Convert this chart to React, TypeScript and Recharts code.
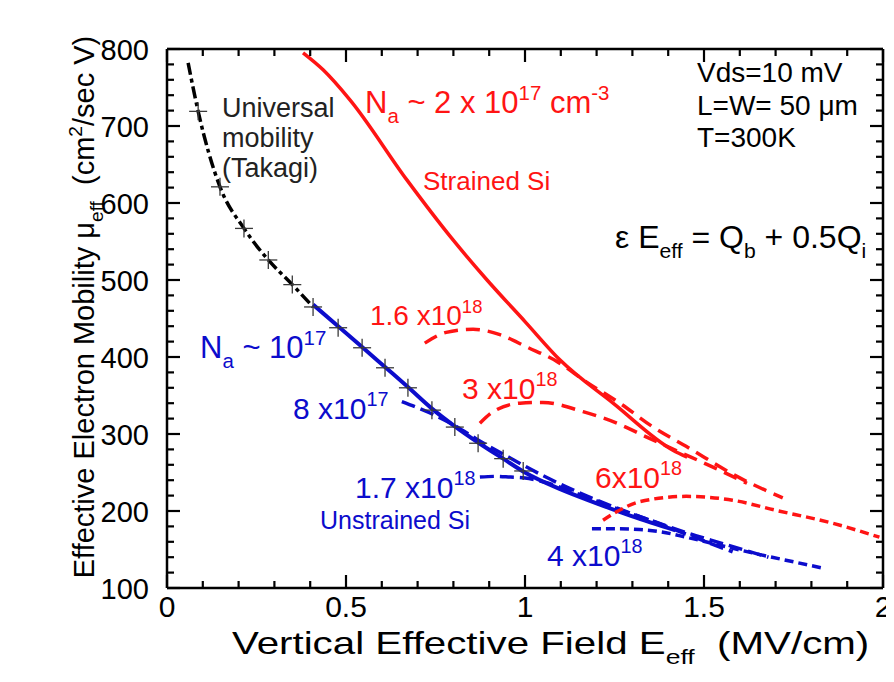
import React from "react";
import { ComposedChart, Line, Scatter, XAxis, YAxis } from "recharts";

const FONT = "'Liberation Sans', Arial, sans-serif";
const RED = "#ff1414";
const BLUE = "#0c0ccc";

// axis ticks
const fieldTicks = [0, 0.1, 0.2, 0.3, 0.4, 0.5, 0.6, 0.7, 0.8, 0.9, 1, 1.1, 1.2, 1.3, 1.4, 1.5, 1.6, 1.7, 1.8, 1.9, 2];
const mobilityTicks = [
  100, 120, 140, 160, 180, 200, 220, 240, 260, 280, 300, 320, 340, 360, 380, 400, 420, 440, 460, 480,
  500, 520, 540, 560, 580, 600, 620, 640, 660, 680, 700, 720, 740, 760, 780, 800,
];

// universal mobility (Takagi)
const universalX = [0.059, 0.087, 0.148, 0.215, 0.283, 0.35, 0.408];
const universalY = [782, 719, 621, 567, 526, 494, 465];
const crossX = [0.087, 0.148, 0.215, 0.283, 0.35, 0.408, 0.478, 0.545, 0.609, 0.673, 0.74, 0.804, 0.869, 0.939, 0.995];
const crossY = [719, 621, 567, 526, 494, 465, 438, 412, 386, 360, 331, 309, 288, 268, 252];

// unstrained Si
const na1e17X = [0.408, 0.478, 0.545, 0.609, 0.673, 0.74, 0.804, 0.869, 0.939, 1.0, 1.1, 1.2, 1.3, 1.42];
const na1e17Y = [468, 440, 413, 387, 361, 333, 310, 289, 268, 250, 228, 210, 193, 175];
const na8e17X = [0.656, 0.7, 0.75, 0.8, 0.87, 0.95, 1.05, 1.15, 1.25, 1.35, 1.45, 1.58];
const na8e17Y = [342, 334, 324, 312, 292, 271, 246, 224, 205, 188, 170, 147];
const na17e18X = [0.874, 0.92, 0.96, 1.0, 1.05, 1.15, 1.25, 1.35, 1.45, 1.55, 1.68];
const na17e18Y = [244, 245, 244, 243, 238, 222, 204, 188, 172, 158, 140];
const na4e18X = [1.187, 1.25, 1.32, 1.38, 1.45, 1.55, 1.65, 1.75, 1.83];
const na4e18Y = [177, 177, 176, 173, 166, 155, 144, 134, 126];

// strained Si
const strainedX = [0.38, 0.436, 0.511, 0.67, 0.799, 0.894, 1.0, 1.098, 1.246, 1.413, 1.453];
const strainedY = [795, 773, 734, 630, 552, 500, 446, 396, 340, 279, 270];
const na16e18X = [0.72, 0.78, 0.855, 0.93, 1.005, 1.09, 1.17, 1.265, 1.358, 1.45, 1.6, 1.72];
const na16e18Y = [418, 432, 436, 429, 413, 394, 368, 340, 309, 284, 243, 217];
const na3e18X = [0.874, 0.911, 0.986, 1.05, 1.162, 1.257, 1.34, 1.43, 1.525, 1.62];
const na3e18Y = [314, 329, 340, 341, 329, 314, 296, 277, 257, 236];
const na6e18X = [1.218, 1.26, 1.32, 1.45, 1.58, 1.7, 1.86, 1.99];
const na6e18Y = [188, 200, 212, 219, 214, 201, 184, 166];

const zip = (xs: number[], ys: number[]) => xs.map((x, i) => ({ x, y: ys[i] }));

const isMajorX = (v: number) => Math.abs(v * 2 - Math.round(v * 2)) < 1e-6;
const isMajorY = (v: number) => v % 100 === 0;

const BottomTick = (p: any) => {
  const v = p.payload.value;
  const major = isMajorX(v);
  return (
    <g>
      <line x1={p.x} x2={p.x} y1={p.y} y2={p.y - (major ? 13 : 7)} stroke="#000" strokeWidth={2.2} />
      {major && (
        <text x={p.x} y={p.y + 29} textAnchor="middle" fontSize={30} fontFamily={FONT} fill="#000">
          {String(v)}
        </text>
      )}
    </g>
  );
};

const TopTick = (p: any) => {
  const major = isMajorX(p.payload.value);
  return <line x1={p.x} x2={p.x} y1={p.y} y2={p.y + (major ? 13 : 7)} stroke="#000" strokeWidth={2.2} />;
};

const LeftTick = (p: any) => {
  const v = p.payload.value;
  const major = isMajorY(v);
  return (
    <g>
      <line x1={p.x} x2={p.x + (major ? 13 : 7)} y1={p.y} y2={p.y} stroke="#000" strokeWidth={2.2} />
      {major && (
        <text x={p.x - 18} y={p.y + 11} textAnchor="end" fontSize={29} fontFamily={FONT} fill="#000">
          {String(v)}
        </text>
      )}
    </g>
  );
};

const RightTick = (p: any) => {
  const major = isMajorY(p.payload.value);
  return <line x1={p.x} x2={p.x - (major ? 13 : 7)} y1={p.y} y2={p.y} stroke="#000" strokeWidth={2.2} />;
};

const Cross = (p: any) => (
  <g stroke="#3a3a3a" strokeWidth={1.3}>
    <line x1={p.cx - 9} x2={p.cx + 9} y1={p.cy} y2={p.cy} />
    <line x1={p.cx} x2={p.cx} y1={p.cy - 9} y2={p.cy + 9} />
  </g>
);

type Part = [string, "n" | "sub" | "sup"];

// text with sub/superscripts; sx stretches it horizontally, rotate turns it about (x, y)
const Rich = ({ x, y, size, color, parts, anchor = "start", rotate = 0, sx = 1 }: any) => {
  let prev = 0;
  return (
    <text
      x={0}
      y={0}
      transform={`translate(${x},${y}) rotate(${rotate}) scale(${sx},1)`}
      fontSize={size}
      fill={color}
      fontFamily={FONT}
      textAnchor={anchor}
      style={{ whiteSpace: "pre" }}
    >
      {(parts as Part[]).map(([s, m], i) => {
        const off = m === "sup" ? -0.42 * size : m === "sub" ? 0.32 * size : 0;
        const dy = off - prev;
        prev = off;
        return (
          <tspan key={i} dy={dy} fontSize={m === "n" ? size : size * 0.66}>
            {s}
          </tspan>
        );
      })}
    </text>
  );
};

const axisLine = { stroke: "#000", strokeWidth: 2.5 };

export default function App() {
  return (
    <div style={{ position: "relative", marginLeft: -8, marginTop: -8, width: 894, height: 682, background: "#fff" }}>
      <ComposedChart width={894} height={682} margin={{ top: 48, right: 10, bottom: 34, left: 67 }}>
        <XAxis
          xAxisId="b"
          type="number"
          dataKey="x"
          domain={[0, 2]}
          ticks={fieldTicks}
          interval={0}
          allowDataOverflow
          height={60}
          tickSize={0}
          tickMargin={0}
          axisLine={axisLine}
          tickLine={false}
          tick={<BottomTick />}
        />
        <XAxis
          xAxisId="t"
          orientation="top"
          type="number"
          dataKey="x"
          domain={[0, 2]}
          ticks={fieldTicks}
          interval={0}
          allowDataOverflow
          height={1}
          tickSize={0}
          tickMargin={0}
          axisLine={axisLine}
          tickLine={false}
          tick={<TopTick />}
        />
        <YAxis
          yAxisId="l"
          type="number"
          dataKey="y"
          domain={[100, 800]}
          ticks={mobilityTicks}
          interval={0}
          allowDataOverflow
          width={100}
          tickSize={0}
          tickMargin={0}
          axisLine={axisLine}
          tickLine={false}
          tick={<LeftTick />}
        />
        <YAxis
          yAxisId="r"
          orientation="right"
          type="number"
          dataKey="y"
          domain={[100, 800]}
          ticks={mobilityTicks}
          interval={0}
          allowDataOverflow
          width={1}
          tickSize={0}
          tickMargin={0}
          axisLine={axisLine}
          tickLine={false}
          tick={<RightTick />}
        />

        <Line xAxisId="b" yAxisId="l" data={zip(universalX, universalY)} dataKey="y" type="monotone" stroke="#000" strokeWidth={3.5} strokeDasharray="12 4 4 4" dot={false} activeDot={false} isAnimationActive={false} />

        <Line xAxisId="b" yAxisId="l" data={zip(na8e17X, na8e17Y)} dataKey="y" type="monotone" stroke={BLUE} strokeWidth={3.5} strokeDasharray="14 6" dot={false} activeDot={false} isAnimationActive={false} />
        <Line xAxisId="b" yAxisId="l" data={zip(na17e18X, na17e18Y)} dataKey="y" type="monotone" stroke={BLUE} strokeWidth={3.5} strokeDasharray="14 6" dot={false} activeDot={false} isAnimationActive={false} />
        <Line xAxisId="b" yAxisId="l" data={zip(na4e18X, na4e18Y)} dataKey="y" type="monotone" stroke={BLUE} strokeWidth={3.5} strokeDasharray="9 5" dot={false} activeDot={false} isAnimationActive={false} />
        <Line xAxisId="b" yAxisId="l" data={zip(na1e17X, na1e17Y)} dataKey="y" type="monotone" stroke={BLUE} strokeWidth={4} dot={false} activeDot={false} isAnimationActive={false} />

        <Line xAxisId="b" yAxisId="l" data={zip(na16e18X, na16e18Y)} dataKey="y" type="monotone" stroke={RED} strokeWidth={3.5} strokeDasharray="14 8" dot={false} activeDot={false} isAnimationActive={false} />
        <Line xAxisId="b" yAxisId="l" data={zip(na3e18X, na3e18Y)} dataKey="y" type="monotone" stroke={RED} strokeWidth={3.5} strokeDasharray="14 8" dot={false} activeDot={false} isAnimationActive={false} />
        <Line xAxisId="b" yAxisId="l" data={zip(na6e18X, na6e18Y)} dataKey="y" type="monotone" stroke={RED} strokeWidth={3.5} strokeDasharray="9 5" dot={false} activeDot={false} isAnimationActive={false} />
        <Line xAxisId="b" yAxisId="l" data={zip(strainedX, strainedY)} dataKey="y" type="monotone" stroke={RED} strokeWidth={3.5} dot={false} activeDot={false} isAnimationActive={false} />

        <Scatter xAxisId="b" yAxisId="l" data={zip(crossX, crossY)} dataKey="y" shape={Cross} isAnimationActive={false} />
      </ComposedChart>

      <svg width={894} height={682} style={{ position: "absolute", left: 0, top: 0, pointerEvents: "none" }}>
        <Rich x={94} y={307} size={29} color="#000" anchor="middle" rotate={-90}
          parts={[["Effective Electron Mobility \u03bc", "n"], ["eff", "sub"], ["  (cm", "n"], ["2", "sup"], ["/sec V)", "n"]]} />
        <Rich x={232} y={654} size={31} sx={1.3} color="#000"
          parts={[["Vertical Effective Field E", "n"], ["eff", "sub"], ["  (MV/cm)", "n"]]} />

        <Rich x={222} y={117} size={27} color="#222" parts={[["Universal", "n"]]} />
        <Rich x={222} y={147} size={27} color="#222" parts={[["mobility", "n"]]} />
        <Rich x={222} y={177} size={27} color="#222" parts={[["(Takagi)", "n"]]} />

        <Rich x={365} y={113} size={31} color={RED}
          parts={[["N", "n"], ["a", "sub"], [" ~ 2 x 10", "n"], ["17", "sup"], [" cm", "n"], ["-3", "sup"]]} />
        <Rich x={423} y={190} size={26} color={RED} parts={[["Strained Si", "n"]]} />

        <Rich x={697} y={82} size={28} color="#000" parts={[["Vds=10 mV", "n"]]} />
        <Rich x={697} y={115} size={28} color="#000" parts={[["L=W= 50 \u03bcm", "n"]]} />
        <Rich x={697} y={147} size={28} color="#000" parts={[["T=300K", "n"]]} />
        <Rich x={615} y={248} size={32} color="#000"
          parts={[["\u03b5 E", "n"], ["eff", "sub"], [" = Q", "n"], ["b", "sub"], [" + 0.5Q", "n"], ["i", "sub"]]} />

        <Rich x={370} y={325} size={28} color={RED} parts={[["1.6 x10", "n"], ["18", "sup"]]} />
        <Rich x={462} y={399} size={30} color={RED} parts={[["3 x10", "n"], ["18", "sup"]]} />
        <Rich x={595} y={488} size={30} color={RED} parts={[["6x10", "n"], ["18", "sup"]]} />

        <Rich x={200} y={358} size={31} color={BLUE} parts={[["N", "n"], ["a", "sub"], [" ~ 10", "n"], ["17", "sup"]]} />
        <Rich x={293} y={419} size={30} color={BLUE} parts={[["8 x10", "n"], ["17", "sup"]]} />
        <Rich x={355} y={498} size={30} color={BLUE} parts={[["1.7 x10", "n"], ["18", "sup"]]} />
        <Rich x={320} y={529} size={25} color={BLUE} parts={[["Unstrained Si", "n"]]} />
        <Rich x={547} y={566} size={30} color={BLUE} parts={[["4 x10", "n"], ["18", "sup"]]} />
      </svg>
    </div>
  );
}
